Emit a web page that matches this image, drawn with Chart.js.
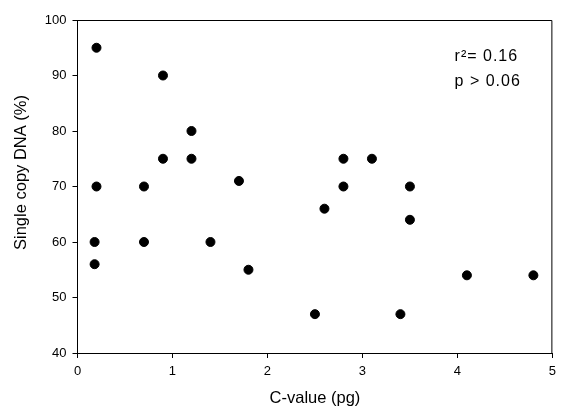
<!DOCTYPE html>
<html>
<head>
<meta charset="utf-8">
<script src="https://cdn.jsdelivr.net/npm/chart.js@4/dist/chart.umd.min.js"></script>
<style>
  html, body { margin: 0; padding: 0; background: #fff; }
  #wrap { width: 562px; height: 411px; }
</style>
</head>
<body>
<div id="wrap"><canvas id="scatter" width="562" height="411"></canvas></div>
<script>
// C-value (pg) vs single copy DNA (%)
const cValues = [0.2, 0.2, 0.18, 0.18, 0.9, 0.9, 1.2, 1.2, 0.7, 0.7, 1.7, 1.4, 1.8,
                 2.5, 2.6, 2.8, 2.8, 3.1, 3.4, 3.5, 3.5, 4.1, 4.8];
const singleCopy = [95, 70, 60, 56, 90, 75, 80, 75, 70, 60, 71, 60, 55,
                    47, 66, 75, 70, 75, 47, 70, 64, 54, 54];
const xTicks = [0, 1, 2, 3, 4, 5];
const yTicks = [40, 50, 60, 70, 80, 90, 100];
const yTitle = "Single copy DNA (%)";
const statLines = ["r\u00b2= 0.16", "p > 0.06"];

const font = "'Liberation Sans', Arial, Helvetica, sans-serif";

const points = cValues.map((x, i) => ({ x: x, y: singleCopy[i] }));

// frame on top/right, y title and the stats note
const framePlugin = {
    id: "frame",
    afterDraw(chart) {
        const { ctx, chartArea, scales } = chart;
        ctx.save();
        ctx.strokeStyle = "#000";
        ctx.lineWidth = 1;
        ctx.beginPath();
        ctx.moveTo(chartArea.left, chartArea.top + 0.5);
        ctx.lineTo(chartArea.right - 0.5, chartArea.top + 0.5);
        ctx.lineTo(chartArea.right - 0.5, chartArea.bottom);
        ctx.stroke();

        ctx.fillStyle = "#000";
        ctx.textBaseline = "middle";

        // y axis title, sits a bit above the middle like the original
        ctx.save();
        ctx.translate(21, 172.5);
        ctx.rotate(-Math.PI / 2);
        ctx.textAlign = "center";
        ctx.font = "16.5px " + font;
        ctx.fillText(yTitle, 0, 0);
        ctx.restore();

        ctx.font = "16px " + font;
        ctx.letterSpacing = "1px";
        ctx.textAlign = "left";
        const tx = scales.x.getPixelForValue(3.97);
        ctx.fillText(statLines[0], tx, scales.y.getPixelForValue(93.4));
        ctx.fillText(statLines[1], tx, scales.y.getPixelForValue(88.9));
        ctx.restore();
    }
};

new Chart("scatter", {
    type: "scatter",
    data: {
        datasets: [
            {
                data: points,
                backgroundColor: "#000",
                borderColor: "#000",
                pointRadius: 4.5,
                pointHoverRadius: 4.5,
            },
        ],
    },
    plugins: [framePlugin],
    options: {
        responsive: false,
        animation: false,
        events: [],
        layout: { padding: { top: 20, right: 8, left: 0, bottom: 0 } },
        plugins: {
            legend: { display: false },
            tooltip: { enabled: false },
        },
        scales: {
            x: {
                type: "linear",
                min: 0,
                max: 5,
                afterBuildTicks: (axis) => {
                    axis.ticks = xTicks.map((v) => ({ value: v }));
                },
                afterFit: (axis) => { axis.height = 58; },
                border: { display: true, color: "#000", width: 1 },
                grid: { drawOnChartArea: false, tickLength: 5, color: "#000" },
                ticks: { color: "#000", padding: 6, font: { family: font, size: 13 } },
                title: {
                    display: true,
                    text: "C-value (pg)",
                    color: "#000",
                    font: { family: font, size: 16.5 },
                    padding: { top: 0, bottom: 3 },
                },
            },
            y: {
                min: 40,
                max: 100,
                afterBuildTicks: (axis) => {
                    axis.ticks = yTicks.map((v) => ({ value: v }));
                },
                afterFit: (axis) => { axis.width = 77.5; },
                border: { display: true, color: "#000", width: 1 },
                grid: { drawOnChartArea: false, tickLength: 5, color: "#000" },
                ticks: { color: "#000", padding: 6, font: { family: font, size: 13 } },
            },
        },
    },
});
</script>
</body>
</html>
